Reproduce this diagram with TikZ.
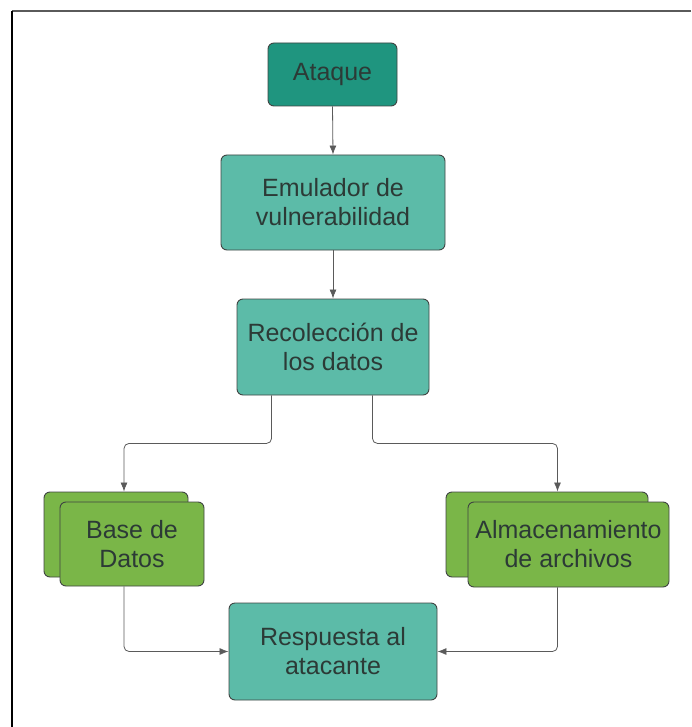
\documentclass[tikz,border=0pt]{standalone}
\usepackage{fontspec}
\setmainfont{Liberation Sans}
\usetikzlibrary{calc,arrows.meta}

\definecolor{tealdark}{HTML}{1F957F}
\definecolor{teallight}{HTML}{5CBBA8}
\definecolor{leafgreen}{HTML}{7AB648}
\definecolor{edgegray}{HTML}{3F4442}
\definecolor{textdark}{HTML}{2C3A36}
\definecolor{wiregray}{HTML}{5A5A5A}

\tikzset{
  box/.style={draw=edgegray, line width=0.9pt, rounded corners=6pt,
    text=textdark, align=center,
    font=\fontsize{25}{29}\selectfont, inner sep=0pt},
  tealbox/.style={box, fill=teallight},
  darkbox/.style={box, fill=tealdark},
  greenbox/.style={box, fill=leafgreen},
  conn/.style={draw=wiregray, line width=0.8pt, rounded corners=5pt,
    -{Latex[length=9pt,width=7pt]}},
}

\begin{document}
\begin{tikzpicture}[x=1pt, y=-1pt]
\useasboundingbox (0,0) rectangle (691,727);

% partial frame
\draw[line width=1.4pt, wiregray] (691,11) -- (12,11);
\draw[line width=1.4pt, black] (12,11) -- (12,727);

% process boxes
\node[darkbox, minimum width=129pt, minimum height=63pt] (ataque) at (332.5,74.5) {Ataque};
\node[tealbox, minimum width=224pt, minimum height=95pt] (emu) at (333,202.5) {Emulador de\\vulnerabilidad};
\node[tealbox, minimum width=192pt, minimum height=96pt] (rec) at (333,347) {Recolección de\\los datos};
\node[tealbox, minimum width=208pt, minimum height=97pt] (resp) at (333,651.5) {Respuesta al\\atacante};

% stacked storage boxes
\node[greenbox, minimum width=144pt, minimum height=85pt] (dbback) at (116,534.5) {};
\node[greenbox, minimum width=144pt, minimum height=84pt] (db) at (132,544) {Base de\\Datos};
\node[greenbox, minimum width=202pt, minimum height=85pt] (fsback) at (547,534.5) {};
\node[greenbox, minimum width=201pt, minimum height=85pt] (fs) at (568.5,544.5) {Almacenamiento\\de archivos};

\coordinate (dbmid) at ($(dbback.north west)!0.5!(db.north east)$);
\coordinate (fsmid) at ($(fsback.north west)!0.5!(fs.north east)$);

% connectors
\draw[conn] (ataque.south) -- (emu.north);
\draw[conn] (emu.south) -- (rec.north);
\draw[conn] ([xshift=35pt]rec.south west) -- ++(0,48) -| (dbmid |- dbback.north);
\draw[conn] ([xshift=-57pt]rec.south east) -- ++(0,48) -| (fsmid |- fsback.north);
\draw[conn] (dbmid |- db.south) |- (resp.west);
\draw[conn] (fsmid |- fs.south) |- (resp.east);
\end{tikzpicture}
\end{document}
